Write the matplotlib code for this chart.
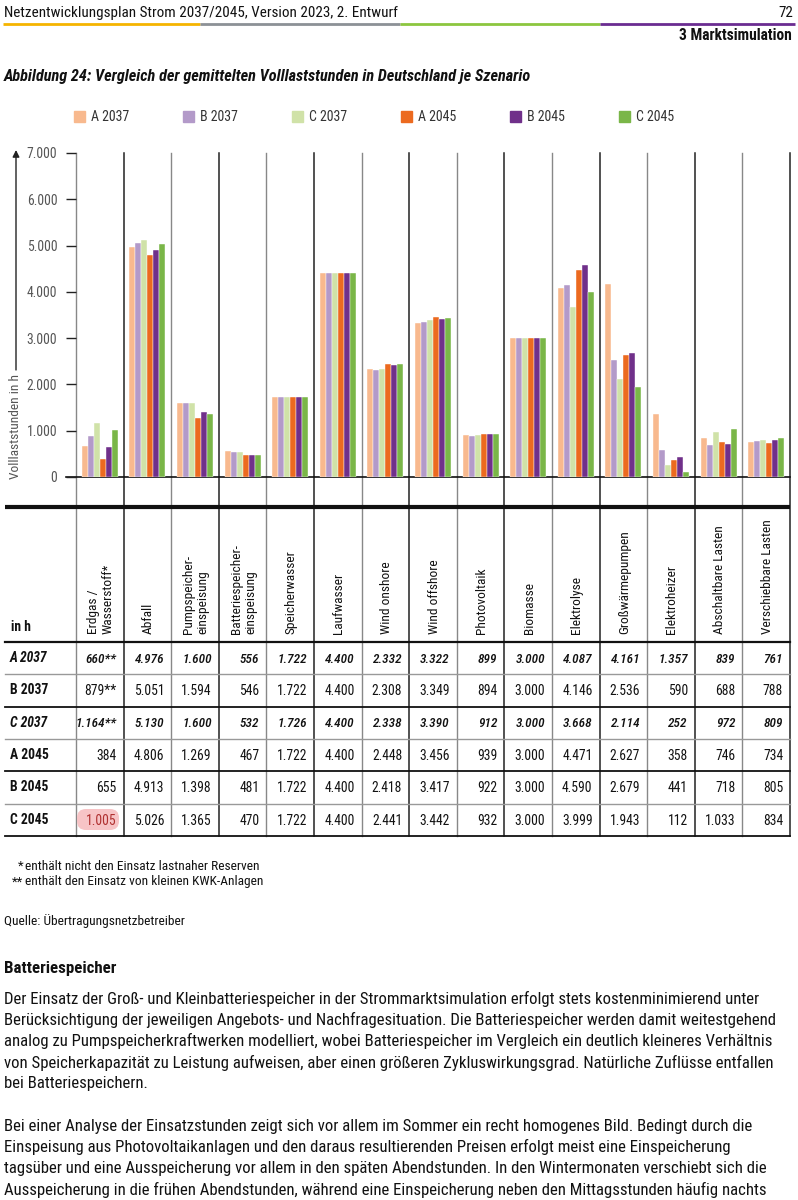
import os
import matplotlib
matplotlib.use('Agg')
from matplotlib import pyplot as plt
from matplotlib import font_manager
from matplotlib.patches import FancyBboxPatch
import numpy as np

#Data
categories = ['Erdgas /\nWasserstoff*', 'Abfall', 'Pumpspeicher-\neinspeisung', 'Batteriespeicher-\neinspeisung',
              'Speicherwasser', 'Laufwasser', 'Wind onshore', 'Wind offshore', 'Photovoltaik', 'Biomasse',
              'Elektrolyse', 'Großwärmepumpen', 'Elektroheizer', 'Abschaltbare Lasten', 'Verschiebbare Lasten']
scenarios = ['A 2037', 'B 2037', 'C 2037', 'A 2045', 'B 2045', 'C 2045']
a2037 = [660, 4976, 1600, 556, 1722, 4400, 2332, 3322, 899, 3000, 4087, 4161, 1357, 839, 761]
b2037 = [879, 5051, 1594, 546, 1722, 4400, 2308, 3349, 894, 3000, 4146, 2536, 590, 688, 788]
c2037 = [1164, 5130, 1600, 532, 1726, 4400, 2338, 3390, 912, 3000, 3668, 2114, 252, 972, 809]
a2045 = [384, 4806, 1269, 467, 1722, 4400, 2448, 3456, 939, 3000, 4471, 2627, 358, 746, 734]
b2045 = [655, 4913, 1398, 481, 1722, 4400, 2418, 3417, 922, 3000, 4590, 2679, 441, 718, 805]
c2045 = [1005, 5026, 1365, 470, 1722, 4400, 2441, 3442, 932, 3000, 3999, 1943, 112, 1033, 834]
series = [a2037, b2037, c2037, a2045, b2045, c2045]
starred = {(0, 0), (1, 0), (2, 0)} #cells with ** (row, column)
yTicks = [0, 1000, 2000, 3000, 4000, 5000, 6000, 7000]

colors = ['#f8b98e', '#b39ac9', '#d0e2a8', '#ec6a1f', '#70308a', '#7ab648']

footnotes = ['* enthält nicht den Einsatz lastnaher Reserven', '** enthält den Einsatz von kleinen KWK-Anlagen']
source = 'Quelle: Übertragungsnetzbetreiber'
heading = 'Batteriespeicher'
paragraph1 = ['Der Einsatz der Groß- und Kleinbatteriespeicher in der Strommarktsimulation erfolgt stets kostenminimierend unter',
              'Berücksichtigung der jeweiligen Angebots- und Nachfragesituation. Die Batteriespeicher werden damit weitestgehend',
              'analog zu Pumpspeicherkraftwerken modelliert, wobei Batteriespeicher im Vergleich ein deutlich kleineres Verhältnis',
              'von Speicherkapazität zu Leistung aufweisen, aber einen größeren Zykluswirkungsgrad. Natürliche Zuflüsse entfallen',
              'bei Batteriespeichern.']
paragraph2 = ['Bei einer Analyse der Einsatzstunden zeigt sich vor allem im Sommer ein recht homogenes Bild. Bedingt durch die',
              'Einspeisung aus Photovoltaikanlagen und den daraus resultierenden Preisen erfolgt meist eine Einspeicherung',
              'tagsüber und eine Ausspeicherung vor allem in den späten Abendstunden. In den Wintermonaten verschiebt sich die',
              'Ausspeicherung in die frühen Abendstunden, während eine Einspeicherung neben den Mittagsstunden häufig nachts']

def fmt(v):
    return f'{v:,}'.replace(',', '.')

#Fonts: the original uses a condensed DIN-like face, look for a condensed font file
fontFiles = {os.path.basename(f.fname): f.fname for f in font_manager.fontManager.ttflist}
faceOptions = {
    'regular': ['RobotoCondensed-Regular.ttf', 'NotoSans-Condensed.ttf', 'DejaVuSansCondensed.ttf'],
    'bold': ['RobotoCondensed-Bold.ttf', 'NotoSans-CondensedBold.ttf', 'DejaVuSansCondensed-Bold.ttf'],
    'italic': ['RobotoCondensed-Italic.ttf', 'NotoSans-CondensedItalic.ttf', 'DejaVuSansCondensed-Oblique.ttf'],
    'bolditalic': ['RobotoCondensed-BoldItalic.ttf', 'NotoSans-CondensedBoldItalic.ttf', 'DejaVuSansCondensed-BoldOblique.ttf'],
    'mediumitalic': ['RobotoCondensed-MediumItalic.ttf', 'NotoSans-CondensedMediumItalic.ttf', 'RobotoCondensed-Italic.ttf',
                     'NotoSans-CondensedItalic.ttf', 'DejaVuSansCondensed-Oblique.ttf'],
}
fallback = {'regular': ('normal', 'normal'), 'bold': ('bold', 'normal'), 'italic': ('normal', 'italic'),
            'bolditalic': ('bold', 'italic'), 'mediumitalic': ('semibold', 'italic')}
foundCondensed = any(o in fontFiles for o in faceOptions['regular'])
shrink = 1.0 if foundCondensed else 0.86

def F(kind, size):
    for o in faceOptions[kind]:
        if o in fontFiles:
            return font_manager.FontProperties(fname=fontFiles[o], size=size)
    w, s = fallback[kind]
    return font_manager.FontProperties(family='DejaVu Sans', weight=w, style=s, size=size * shrink)

#Layout (pixels)
W, H = 798, 1200
x0, x1 = 76, 790
colW = (x1 - x0) / len(categories)
yZero, yTop = 477, 153
tableTop, headerBottom = 507, 642
rowH = 32.3

fig = plt.figure(figsize=(W / 100, H / 100), dpi=100)
page = fig.add_axes([0, 0, 1, 1])
page.set_xlim(0, W)
page.set_ylim(H, 0)
page.axis('off')

#Page header
page.text(4, 13, 'Netzentwicklungsplan Strom 2037/2045, Version 2023, 2. Entwurf', fontproperties=F('regular', 10.9), va='center', color='#111')
page.text(793, 13, '72', fontproperties=F('regular', 10.9), va='center', ha='right', color='#111')
for xa, xb, c in [(3, 200, '#f5b400'), (200, 400, '#8c9196'), (400, 600, '#8cc63f'), (600, 795, '#6a2c91')]:
    page.plot([xa, xb], [23.5, 23.5], color=c, lw=2, solid_capstyle='butt')
page.text(792, 36, '3 Marktsimulation', fontproperties=F('bold', 11.2), va='center', ha='right', color='#111')
page.text(4, 76, 'Abbildung 24: Vergleich der gemittelten Volllaststunden in Deutschland je Szenario',
          fontproperties=F('bolditalic', 11.7), va='center', color='#111')

#Legend
legX = [74, 183, 292, 401, 510, 619]
for lx, name, c in zip(legX, scenarios, colors):
    page.add_patch(plt.Rectangle((lx, 111), 11, 11, color=c))
    page.text(lx + 17, 117, name, fontproperties=F('regular', 10), va='center', color='#333')

#Bar chart
ax = fig.add_axes([x0 / W, 1 - yZero / H, (x1 - x0) / W, (yZero - yTop) / H])
ax.patch.set_alpha(0)
ax.set_xlim(0, len(categories))
ax.set_ylim(0, 7000)
bw = 0.126
xc = np.arange(len(categories)) + 0.5
for k, (vals, c) in enumerate(zip(series, colors)):
    ax.bar(xc + (k - 2.5) * bw, vals, width=bw, color=c, edgecolor='white', linewidth=0.3, zorder=3)
for s in ax.spines.values():
    s.set_visible(False)
ax.set_xticks([])
ax.set_yticks(yTicks)
ax.set_yticklabels([fmt(t) for t in yTicks])
for t in ax.get_yticklabels():
    t.set_fontproperties(F('regular', 9.8))
    t.set_color('#555')
ax.tick_params(axis='y', direction='out', length=7.5, width=1, color='#222', pad=6)

#Y axis title and arrow
page.text(16, 479, 'Volllaststunden in h', rotation=90, ha='center', va='bottom', fontproperties=F('regular', 9.6), color='#555')
page.annotate('', xy=(16, 150), xytext=(16, 370),
              arrowprops=dict(arrowstyle='-|>', color='#222', lw=1, mutation_scale=10, shrinkA=0, shrinkB=0))

#Vertical grid through chart and table
for i in range(len(categories) + 1):
    xv = x0 + i * colW
    dark = (i % 2 == 1) and i > 0
    page.plot([xv, xv], [yTop, 836], color='#222' if dark else '#888', lw=1.1 if dark else 1.0, zorder=1)
page.plot([66, x1], [yZero, yZero], color='#111', lw=1.2)

#Table
page.plot([5, x1], [tableTop, tableTop], color='#111', lw=3, solid_capstyle='butt')
page.plot([5, x1], [headerBottom, headerBottom], color='#111', lw=1.6)
page.text(11, 631, 'in h', fontproperties=F('bold', 9.8), va='baseline', color='#111')
for i, cat in enumerate(categories):
    page.text(x0 + (i + 0.5) * colW + 1, 634, cat, rotation=90, ha='center', va='bottom',
              multialignment='left', fontproperties=F('regular', 9.6), color='#111', linespacing=1.15)

for r, (name, vals) in enumerate(zip(scenarios, series)):
    yc = headerBottom + (r + 0.5) * rowH
    ital = name in ('A 2037', 'C 2037')
    page.text(10, yc, name, fontproperties=F('bolditalic' if ital else 'bold', 9.8), va='center', color='#111')
    for i, v in enumerate(vals):
        s = fmt(v) + ('**' if (r, i) in starred else '')
        page.text(x0 + (i + 1) * colW - 7, yc + 1, s, fontproperties=F('mediumitalic' if ital else 'regular', 9.5 if ital else 9.8),
                  ha='right', va='center', color='#b03030' if (r == 5 and i == 0) else '#111', zorder=4)
    yb = headerBottom + (r + 1) * rowH
    dark = r % 2 == 1
    page.plot([5, x1], [yb, yb], color='#111' if dark else '#999', lw=1.3 if dark else 1.0)

#Highlight of the C 2045 Erdgas cell
page.add_patch(FancyBboxPatch((77, 809), 42, 21, boxstyle='round,pad=0,rounding_size=9',
                              facecolor='#f7c4c6', edgecolor='none', zorder=2))

#Footnotes and source
page.text(23, 866, footnotes[0][0], fontproperties=F('regular', 9.6), va='center', ha='right', color='#111')
page.text(25, 866, footnotes[0][2:], fontproperties=F('regular', 9.6), va='center', color='#111')
page.text(23, 882, footnotes[1][:2], fontproperties=F('regular', 9.6), va='center', ha='right', color='#111')
page.text(25, 882, footnotes[1][3:], fontproperties=F('regular', 9.6), va='center', color='#111')
page.text(4, 921, source, fontproperties=F('regular', 9.6), va='center', color='#111')

#Body text
page.text(4, 969, heading, fontproperties=F('bold', 12.2), va='center', color='#111')
for j, line in enumerate(paragraph1):
    page.text(4, 999 + j * 21.2, line, fontproperties=F('regular', 12.1), va='center', color='#111')
for j, line in enumerate(paragraph2):
    page.text(4, 1126 + j * 21.2, line, fontproperties=F('regular', 12.1), va='center', color='#111')

fig.savefig('out.png', dpi=100)
